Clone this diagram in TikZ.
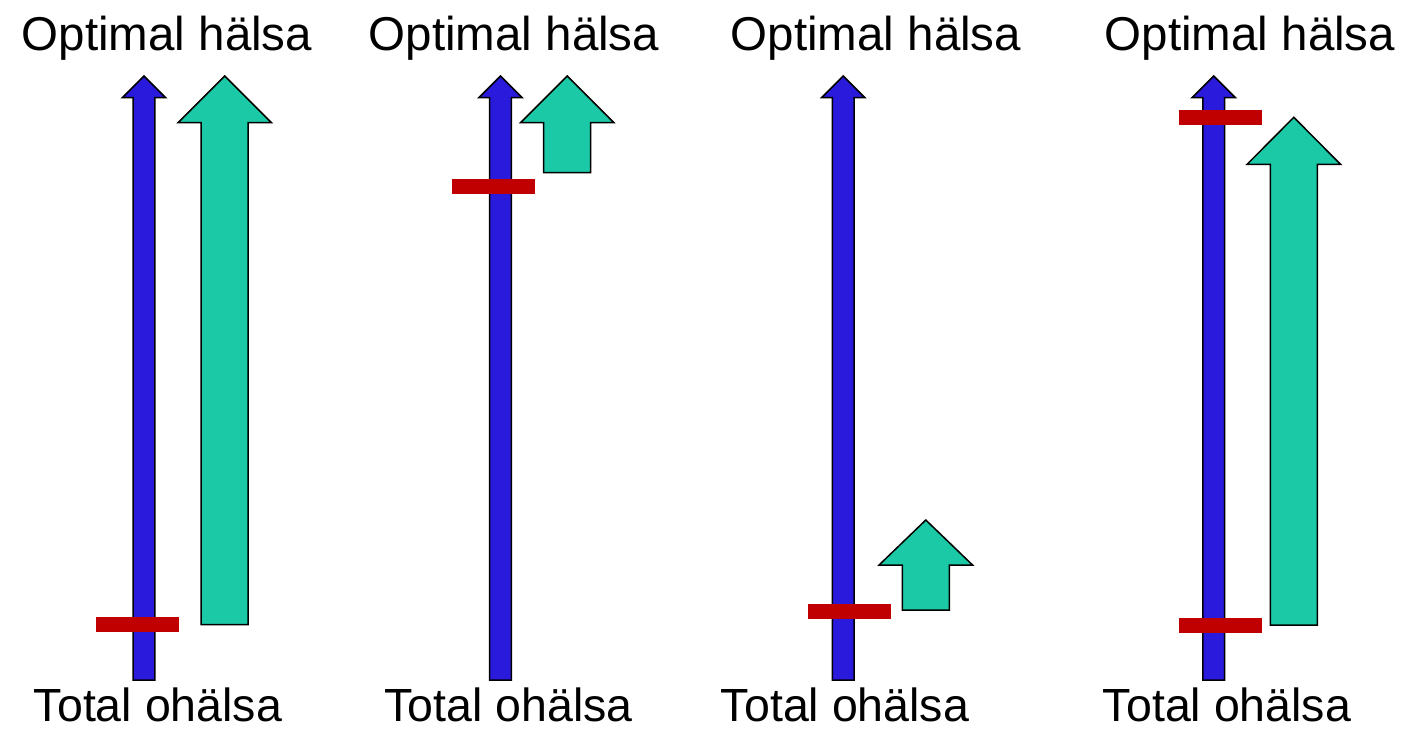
\documentclass[tikz,border=0pt]{standalone}
\usepackage{fontspec}
\setmainfont{Liberation Sans}
\usetikzlibrary{positioning}
\usepackage{xcolor}
\definecolor{shaftblue}{HTML}{2A1ADB}
\definecolor{gainteal}{HTML}{1CC9A7}
\definecolor{markred}{HTML}{C00000}

% block arrow: style, centre x, tip y, head base y, bottom y, head half width, shaft half width
\newcommand{\healtharrow}[7]{%
  \draw[#1] (#2,#3) -- (#2+#6,#4) -- (#2+#7,#4) -- (#2+#7,#5)
    -- (#2-#7,#5) -- (#2-#7,#4) -- (#2-#6,#4) -- cycle;}

\begin{document}
\begin{tikzpicture}[
      x=1pt, y=-1pt,
      every node/.style={text=black, inner sep=0pt},
      toplabel/.style={anchor=base, font=\fontsize{47.5}{56}\selectfont},
      botlabel/.style={anchor=base, font=\fontsize{46.5}{55}\selectfont},
      healthbar/.style={fill=shaftblue, draw=black, line width=1.5pt, line join=miter},
      gainbar/.style={fill=gainteal, draw=black, line width=1.5pt, line join=miter},
      marker/.style={fill=markred}
    ]
      \useasboundingbox (0,0) rectangle (1409,736);

      % labels
      \node[toplabel] (opt1) at (167,50) {Optimal hälsa};
      \node[toplabel] (opt2) at (514,50) {Optimal hälsa};
      \node[toplabel] (opt3) at (876,50) {Optimal hälsa};
      \node[toplabel] (opt4) at (1250,50) {Optimal hälsa};
      \node[botlabel] (tot1) at (158,721) {Total ohälsa};
      \node[botlabel] (tot2) at (508.5,721) {Total ohälsa};
      \node[botlabel] (tot3) at (845,721) {Total ohälsa};
      \node[botlabel] (tot4) at (1227,721) {Total ohälsa};

      % health scales
      \healtharrow{healthbar}{144}{76}{97.7}{680}{21.7}{10.8}
      \healtharrow{healthbar}{500.5}{76}{97.7}{680}{21.7}{10.8}
      \healtharrow{healthbar}{843.2}{76}{97.7}{680}{21.7}{10.8}
      \healtharrow{healthbar}{1213.7}{76}{97.7}{680}{21.7}{10.8}

      % possible gains
      \healtharrow{gainbar}{224.7}{76}{122.7}{624.7}{46.7}{23.5}
      \healtharrow{gainbar}{567.2}{76}{122.7}{172.7}{46.7}{23.5}
      \healtharrow{gainbar}{925.8}{520}{565}{610}{46.7}{23.5}
      \healtharrow{gainbar}{1293.8}{117.3}{164.3}{625}{46.7}{23.5}

      % current level
      \fill[marker] (96,617) rectangle (179,632);
      \fill[marker] (452,179) rectangle (535,194);
      \fill[marker] (808,604) rectangle (891,619);
      \fill[marker] (1179,110) rectangle (1262,125);
      \fill[marker] (1179,618) rectangle (1262,633);
    \end{tikzpicture}
\end{document}
